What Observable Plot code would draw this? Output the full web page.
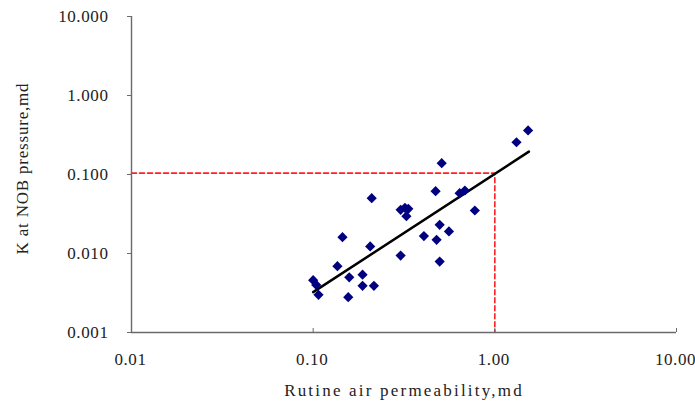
<!DOCTYPE html>
<html>
<head>
<meta charset="utf-8">
<script src="https://cdn.jsdelivr.net/npm/d3@7"></script>
<script src="https://cdn.jsdelivr.net/npm/@observablehq/plot@0.6"></script>
<style>
  html, body { margin: 0; padding: 0; background: #fff; }
  #chart svg { display: block; }
  .xtitle text { letter-spacing: 2.2px; }
  .ytitle text { letter-spacing: 0.8px; }
</style>
</head>
<body>
<div id="chart"></div>
<script>
// Rutine air permeability (md)
const airPerm = [0.100, 0.104, 0.107, 0.136, 0.145, 0.158, 0.156, 0.187, 0.187, 0.216,
                 0.206, 0.210, 0.303, 0.303, 0.320, 0.334, 0.326, 0.407, 0.472, 0.497,
                 0.478, 0.497, 0.559, 0.510, 0.640, 0.684, 0.776, 1.316, 1.524];
// K at NOB pressure (md)
const kNOB = [0.0046, 0.0040, 0.0030, 0.0069, 0.0161, 0.0050, 0.0028, 0.0054, 0.0039, 0.0039,
              0.0123, 0.0501, 0.0094, 0.0357, 0.0379, 0.0368, 0.0297, 0.0166, 0.0615, 0.0231,
              0.0149, 0.0079, 0.0190, 0.139, 0.058, 0.0627, 0.035, 0.256, 0.361];
// power trend line end points
const trendX = [0.100, 1.54];
const trendY = [0.00324, 0.195];
// red dashed reference lines
const refX = [0.01, 1.0, 1.0];
const refY = [0.104, 0.104, 0.001];

const xTicks = [0.01, 0.1, 1, 10];
const xTickLabels = ["0.01", "0.10", "1.00", "10.00"];
const yTicks = [0.001, 0.01, 0.1, 1, 10];
const yTickLabels = ["0.001", "0.010", "0.100", "1.000", "10.000"];
const xTitle = "Rutine air permeability,md";
const yTitle = "K at NOB pressure,md";

const points = airPerm.map((x, i) => ({x, y: kNOB[i]}));
const trend = trendX.map((x, i) => ({x, y: trendY[i]}));
const ref = refX.map((x, i) => ({x, y: refY[i]}));

const font = "'Liberation Serif', 'DejaVu Serif', serif";

const chart = Plot.plot({
  width: 695,
  height: 405,
  marginLeft: 131,
  marginRight: 19,
  marginTop: 16,
  marginBottom: 73,
  style: {fontFamily: font, fontSize: "17px", color: "#222", background: "#fff", letterSpacing: "0.6px"},
  x: {type: "log", domain: [0.01, 10]},
  y: {type: "log", domain: [0.001, 10]},
  marks: [
    Plot.line(ref, {x: "x", y: "y", stroke: "#ff2020", strokeWidth: 1.6, strokeDasharray: "5,3"}),
    Plot.line(trend, {x: "x", y: "y", stroke: "#000", strokeWidth: 2.5}),
    Plot.dot(points, {x: "x", y: "y", symbol: "diamond2", r: 4.6, fill: "#000080", stroke: "none"}),
    Plot.ruleX([0.01], {stroke: "#6a6a6a", strokeWidth: 1.4}),
    Plot.ruleY([0.001], {stroke: "#6a6a6a", strokeWidth: 1.4}),
    Plot.axisY({ticks: yTicks, tickSize: 4, tickPadding: 19, stroke: "#6a6a6a",
      tickFormat: (d) => yTickLabels[yTicks.indexOf(d)], label: null, fontSize: 17}),
    Plot.axisX({ticks: xTicks, tickSize: 0, tickPadding: 20, dx: -1,
      tickFormat: (d) => xTickLabels[xTicks.indexOf(d)], label: null, fontSize: 17}),
    Plot.axisX({ticks: xTicks.slice(1), tickSize: -4, stroke: "#6a6a6a", tickFormat: () => "", label: null}),
    Plot.text([xTitle], {frameAnchor: "bottom", dy: 58, text: (d) => d, fontSize: 17, lineAnchor: "middle", textAnchor: "middle", className: "xtitle"}),
    Plot.text([yTitle], {frameAnchor: "left", dx: -109, dy: -6, rotate: -90, text: (d) => d, fontSize: 17, lineAnchor: "middle", textAnchor: "middle", className: "ytitle"})
  ]
});
document.getElementById("chart").append(chart);
</script>
</body>
</html>
